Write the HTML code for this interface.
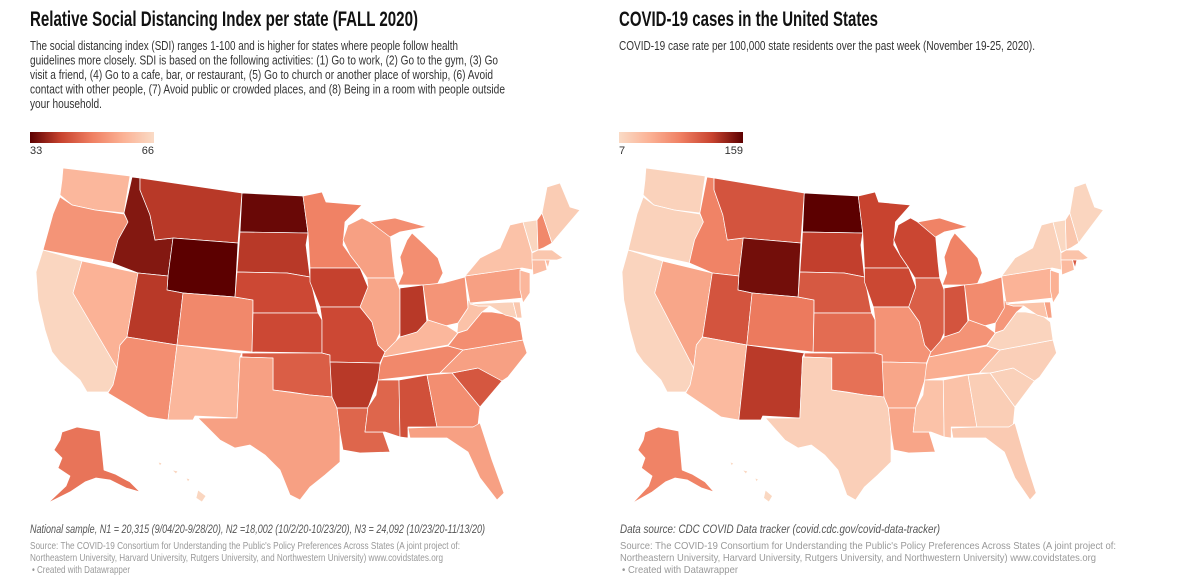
<!DOCTYPE html>
<html><head><meta charset="utf-8"><style>
html,body{margin:0;padding:0;background:#fff;}
svg{display:block;font-family:"Liberation Sans",sans-serif;}
.st{stroke:#fff;stroke-width:0.7;stroke-linejoin:round;}
</style></head><body>
<svg id="root" width="1200" height="583" viewBox="0 0 1200 583">
<defs>
<linearGradient id="gl" x1="0" x2="1"><stop offset="0" stop-color="#5c0000"/><stop offset="0.25" stop-color="#c8432f"/><stop offset="0.5" stop-color="#ef7f62"/><stop offset="0.75" stop-color="#fbb194"/><stop offset="1" stop-color="#fadbc6"/></linearGradient>
<linearGradient id="gr" x1="0" x2="1"><stop offset="0" stop-color="#fadbc6"/><stop offset="0.25" stop-color="#fbb194"/><stop offset="0.5" stop-color="#ef7f62"/><stop offset="0.75" stop-color="#c8432f"/><stop offset="1" stop-color="#5c0000"/></linearGradient>
</defs>
<text x="30" y="26" font-size="21" font-weight="bold" fill="#111" textLength="388" lengthAdjust="spacingAndGlyphs">Relative Social Distancing Index per state (FALL 2020)</text>
<g fill="#333" font-size="13">
<text x="30" y="50" textLength="428" lengthAdjust="spacingAndGlyphs">The social distancing index (SDI) ranges 1-100 and is higher for states where people follow health</text>
<text x="30" y="64.5" textLength="468" lengthAdjust="spacingAndGlyphs">guidelines more closely. SDI is based on the following activities: (1) Go to work, (2) Go to the gym, (3) Go</text>
<text x="30" y="79" textLength="463" lengthAdjust="spacingAndGlyphs">visit a friend, (4) Go to a cafe, bar, or restaurant, (5) Go to church or another place of worship, (6) Avoid</text>
<text x="30" y="93.5" textLength="475" lengthAdjust="spacingAndGlyphs">contact with other people, (7) Avoid public or crowded places, and (8) Being in a room with people outside</text>
<text x="30" y="108" textLength="72" lengthAdjust="spacingAndGlyphs">your household.</text>
</g>
<rect x="30" y="132" width="124" height="11" fill="url(#gl)"/>
<text x="30" y="154" font-size="11" fill="#333">33</text>
<text x="154" y="154" font-size="11" fill="#333" text-anchor="end">66</text>

<text x="619" y="26" font-size="21" font-weight="bold" fill="#111" textLength="259" lengthAdjust="spacingAndGlyphs">COVID-19 cases in the United States</text>
<text x="619" y="50" font-size="13" fill="#333" textLength="416" lengthAdjust="spacingAndGlyphs">COVID-19 case rate per 100,000 state residents over the past week (November 19-25, 2020).</text>
<rect x="619" y="132" width="124" height="11" fill="url(#gr)"/>
<text x="619" y="154" font-size="11" fill="#333">7</text>
<text x="743" y="154" font-size="11" fill="#333" text-anchor="end">159</text>

<g id="mapL"></g>
<g id="mapR" transform="translate(622 0) scale(0.885 1) translate(-36 0)"></g>

<text x="30" y="533" font-size="11.5" font-style="italic" fill="#555" textLength="455" lengthAdjust="spacingAndGlyphs">National sample, N1 = 20,315 (9/04/20-9/28/20), N2 =18,002 (10/2/20-10/23/20), N3 = 24,092 (10/23/20-11/13/20)</text>
<g font-size="10.5" fill="#999">
<text x="30" y="549" textLength="430" lengthAdjust="spacingAndGlyphs">Source: The COVID-19 Consortium for Understanding the Public's Policy Preferences Across States (A joint project of:</text>
<text x="30" y="561" textLength="413" lengthAdjust="spacingAndGlyphs">Northeastern University, Harvard University, Rutgers University, and Northwestern University) www.covidstates.org</text>
<text x="32" y="573" textLength="98" lengthAdjust="spacingAndGlyphs">• Created with Datawrapper</text>
</g>
<text x="620" y="533" font-size="11.5" font-style="italic" fill="#555" textLength="320" lengthAdjust="spacingAndGlyphs">Data source: CDC COVID Data tracker (covid.cdc.gov/covid-data-tracker)</text>
<g font-size="10.5" fill="#999">
<text x="620" y="549" textLength="496" lengthAdjust="spacingAndGlyphs">Source: The COVID-19 Consortium for Understanding the Public's Policy Preferences Across States (A joint project of:</text>
<text x="620" y="561" textLength="476" lengthAdjust="spacingAndGlyphs">Northeastern University, Harvard University, Rutgers University, and Northwestern University) www.covidstates.org</text>
<text x="622" y="573" textLength="116" lengthAdjust="spacingAndGlyphs">• Created with Datawrapper</text>
</g>
</svg>
<script>
// Data arrays
const states = ["WA","OR","CA","NV","ID","MT","WY","UT","CO","AZ","NM","ND","SD","NE","KS","OK","TX","MN","IA","MO","AR","LA","WI","IL","MI","IN","OH","KY","TN","MS","AL","GA","FL","SC","NC","VA","WV","PA","NY","VT","NH","ME","MA","CT","RI","NJ","MD","DE","AK","HI"];
const sdiValues = [59,53,65,58,36,40,33,40,51,52,59,34,40,42,42,45,55,50,41,42,40,46,55,56,52,40,53,59,51,46,43,52,55,44,55,52,61,55,61,65,51,63,62,60,60,59,64,62,48,65];
const caseRates = [15,15,13,53,80,110,151,110,86,37,126,159,123,107,95,92,18,121,118,68,53,54,119,103,80,110,74,68,47,30,30,19,22,16,18,13,65,43,15,10,25,12,28,37,107,45,28,57,80,10];
const sdiDomain = [33,66];
const caseDomain = [7,159];
const paletteStops = ["#fadbc6","#fbb194","#ef7f62","#c8432f","#5c0000"];

// Geometry (simplified outlines, map pixel space)
const shapes = {
WA:"63,168 130,176 124,213 95,210 72,205 60,195 62,180",
OR:"53,214 60,197 72,205 95,210 124,214 128,222 118,240 112,263 43,250",
CA:"43,250 82,261 73,293 117,368 113,385 108,392 87,392 80,380 60,362 52,352 45,330 38,300 36,272",
NV:"82,261 138,273 127,337 120,345 117,368 73,293",
ID:"132,177 140,178 140,190 150,215 155,240 173,238 168,276 138,273 112,263 118,240 128,222 124,213",
MT:"140,178 242,193 238,243 173,238 155,240 150,215 140,190",
WY:"173,238 238,243 235,297 183,293 167,290 168,276",
UT:"138,273 168,276 167,290 183,293 177,345 127,337",
CO:"183,293 235,297 253,300 252,352 177,345",
AZ:"127,337 177,345 168,420 148,417 108,393 113,385 117,368 120,345",
NM:"177,345 242,353 240,357 237,418 195,416 193,420 168,420",
ND:"242,193 303,196 308,233 240,232",
SD:"240,232 308,233 306,245 310,277 287,273 237,272",
NE:"237,272 287,273 310,277 318,313 253,313 253,300 235,297",
KS:"253,313 318,313 322,320 322,353 252,352",
OK:"242,353 322,353 330,355 332,397 310,395 290,392 273,390 273,358 242,357",
TX:"240,357 273,358 273,390 310,395 332,397 337,408 340,433 340,462 325,475 310,487 300,500 290,495 280,470 265,455 250,445 235,448 220,440 205,425 198,418 237,418",
MN:"303,196 322,192 326,202 362,205 345,222 343,245 350,255 360,268 310,268 308,233",
IA:"310,268 360,268 368,287 360,307 320,307 310,282",
MO:"320,307 360,307 372,322 378,345 385,352 380,363 330,362 330,355 322,353 322,320",
AR:"330,362 380,363 380,375 368,408 337,408 332,397",
LA:"337,408 368,408 365,432 383,432 390,452 360,453 343,450 340,433",
WI:"343,240 348,225 362,218 390,232 393,262 395,278 367,278 360,268 350,255",
IL:"367,278 395,278 400,290 400,333 394,345 385,352 378,345 372,322 360,307 368,287",
MI:"370,222 395,218 427,227 400,232 390,237 M400,257 407,240 412,233 425,245 438,258 443,273 437,285 398,285 403,273",
IN:"400,288 423,285 427,323 417,332 400,338",
OH:"423,285 443,283 465,277 468,308 458,323 445,326 428,320",
KY:"385,352 400,337 417,332 428,320 447,326 458,333 448,345 420,350 383,357",
TN:"383,357 448,346 463,350 440,373 378,380 380,365",
MS:"378,380 399,380 400,437 385,432 365,432 368,407 376,395",
AL:"399,380 427,375 437,427 408,427 408,438 400,437",
GA:"427,375 452,373 480,407 478,425 473,427 437,427",
FL:"408,428 437,427 473,427 480,423 492,460 504,493 497,500 480,478 468,452 447,438 410,438",
SC:"452,373 478,368 502,381 480,407",
NC:"440,373 463,350 523,340 527,353 508,377 502,381 478,368 452,373",
VA:"448,346 458,333 467,330 482,312 492,312 510,315 520,322 523,340 463,350",
WV:"458,323 468,308 468,300 478,306 490,306 482,312 467,330 457,333",
PA:"465,276 520,268 525,275 523,298 470,303",
NY:"465,276 480,258 500,248 510,225 523,222 532,253 533,270 522,268",
VT:"523,222 537,220 538,250 532,252",
NH:"537,220 542,213 552,243 543,248 538,250",
ME:"542,213 547,187 560,183 570,207 580,210 557,237 552,243",
MA:"532,253 538,250 552,250 563,258 557,260 532,260",
CT:"532,260 545,260 547,270 533,275",
RI:"545,260 550,260 548,268",
NJ:"520,270 530,273 530,293 523,303 520,290",
MD:"470,304 513,302 517,318 505,315 490,306 478,306",
DE:"513,302 520,302 522,318 517,318",
AK:"62,432 77,427 100,431 104,470 115,474 130,482 140,492 126,488 110,480 96,478 85,482 70,492 48,503 66,486 70,476 58,468 62,458 54,450 60,440",
HI:"158,462 162,463 160,466 M172,470 178,471 176,474 M186,478 190,479 188,482 M198,490 206,496 202,502 196,498"
};

function hexToRgb(h){return [parseInt(h.slice(1,3),16),parseInt(h.slice(3,5),16),parseInt(h.slice(5,7),16)];}
function colorScale(t){
  t=Math.max(0,Math.min(1,t));
  const n=paletteStops.length-1, i=Math.min(n-1,Math.floor(t*n)), f=t*n-i;
  const a=hexToRgb(paletteStops[i]), b=hexToRgb(paletteStops[i+1]);
  return "rgb("+a.map((v,k)=>Math.round(v+(b[k]-v)*f)).join(",")+")";
}
function toPath(s){
  return s.split("M").map(p=>"M"+p.trim().split(" ").join(" L")+" Z").join(" ");
}
const NS="http://www.w3.org/2000/svg";
function drawMap(gid, values, domain, invert, prefix){
  const g=document.getElementById(gid);
  states.forEach((st,i)=>{
    let t=(values[i]-domain[0])/(domain[1]-domain[0]);
    if(invert) t=1-t;
    const p=document.createElementNS(NS,"path");
    p.setAttribute("d",toPath(shapes[st]));
    p.setAttribute("fill",colorScale(t));
    p.setAttribute("class","st");
    p.setAttribute("vector-effect","non-scaling-stroke");
    
    
    g.appendChild(p);
  });
}
drawMap("mapL", sdiValues, sdiDomain, true, "sdi");
drawMap("mapR", caseRates, caseDomain, false, "cases");
</script>
</body></html>
